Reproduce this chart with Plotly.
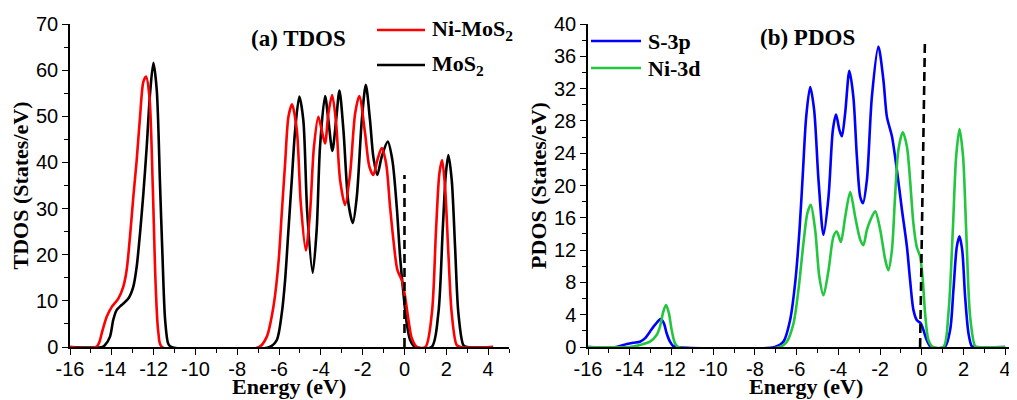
import plotly.graph_objects as go

# ---------------- data ----------------
# (a) TDOS, pristine MoS2
tdos_mos2_x = [-16, -14.45, -14.33, -14.09, -13.93, -13.77, -13.53, -13.21, -12.97, -12.81, -12.65,
               -12.49, -12.33, -12.17, -12.01, -11.85, -11.69, -11.58, -11.45, -11.3, -11.15,
               -6.45, -6.11, -5.87, -5.71, -5.55, -5.39, -5.23, -5.03, -4.84, -4.65, -4.39, -4.2,
               -4.04, -3.8, -3.64, -3.45, -3.27, -3.11, -2.92, -2.68, -2.47, -2.28, -2.04, -1.85,
               -1.65, -1.49, -1.3, -1.09, -0.8, -0.58, -0.37, -0.21, -0.05, 0.11, 0.27, 0.5,
               1.3, 1.62, 1.83, 1.98, 2.1, 2.26, 2.42, 2.58, 2.82, 3.0, 4.24]
tdos_mos2_y = [0, 0, 0.4, 2.2, 5.9, 8.0, 9.1, 10.5, 13.1, 17.4, 24.7,
               33.3, 43.4, 55.0, 61.6, 55.7, 34.7, 20.3, 5.9, 0.7, 0,
               0, 1.5, 7.3, 14.5, 25.4, 36.2, 47.0, 54.3, 49.2, 29.0, 16.1, 25.4,
               43.4, 54.4, 49.2, 42.5, 49.2, 55.6, 47.0, 31.1, 26.9, 32.6, 49.2, 56.8,
               49.2, 41.2, 37.3, 41.2, 44.5, 40.5, 30.4, 19.6, 11.6, 5.1, 1.5, 0,
               0, 7.3, 25.4, 37.6, 41.6, 36.2, 21.7, 7.3, 0.4, 0, 0]

# (a) TDOS, Ni-doped MoS2
tdos_ni_x = [-16, -14.75, -14.6, -14.48, -14.24, -14.0, -13.69, -13.45, -13.29, -13.13, -12.97,
             -12.81, -12.65, -12.49, -12.36, -12.2, -12.04, -11.9, -11.77, -11.6,
             -6.95, -6.59, -6.27, -6.03, -5.87, -5.71, -5.55, -5.38, -5.15, -4.96, -4.72, -4.52,
             -4.33, -4.12, -3.96, -3.8, -3.64, -3.46, -3.27, -3.08, -2.84, -2.6, -2.36, -2.16,
             -1.89, -1.68, -1.49, -1.3, -1.09, -0.88, -0.69, -0.53, -0.34, -0.13, 0.03, 0.19,
             0.35, 0.6, 1.0, 1.31, 1.51, 1.67, 1.8, 1.94, 2.1, 2.26, 2.5, 2.7, 4.24]
tdos_ni_y = [0, 0, 1.0, 3.0, 6.6, 8.7, 10.5, 13.1, 16.7, 23.9, 32.6,
             40.5, 49.9, 57.5, 58.6, 54.2, 34.7, 13.1, 3.0, 0,
             0, 2.2, 8.7, 18.1, 29.0, 39.8, 49.9, 52.6, 47.0, 31.1, 20.9, 29.0,
             43.4, 49.9, 47.0, 44.1, 50.6, 54.6, 48.5, 36.2, 30.8, 37.6, 50.6, 54.4,
             46.5, 39.1, 37.3, 40.5, 43.1, 39.8, 30.4, 23.2, 16.7, 14.5, 10.9, 5.9,
             1.9, 0, 0, 7.3, 25.4, 37.6, 40.5, 34.7, 20.3, 7.3, 0.4, 0, 0]

# (b) PDOS, S-3p
s3p_x = [-16, -14.65, -14.14, -13.83, -13.51, -13.27, -13.03, -12.79, -12.52, -12.36, -12.23,
         -12.07, -11.91, -11.75,
         -7.05, -6.63, -6.31, -6.07, -5.86, -5.7, -5.54, -5.35, -5.16, -4.95, -4.71, -4.47,
         -4.26, -4.11, -3.95, -3.83, -3.67, -3.47, -3.28, -3.11, -2.95, -2.82, -2.63, -2.39,
         -2.08, -1.84, -1.67, -1.43, -1.19, -0.95, -0.71, -0.56, -0.4, -0.24, -0.04, 0.08,
         0.24, 0.44, 1.1, 1.36, 1.52, 1.68, 1.81, 1.94, 2.08, 2.24, 2.4, 2.55, 4.0]
s3p_y = [0, 0, 0.37, 0.53, 0.66, 1.07, 1.9, 2.73, 3.45, 2.93, 1.7,
         0.66, 0.1, 0,
         0, 0.66, 3.35, 7.9, 14.5, 21.5, 28.5, 32.2, 29.4, 20.7, 13.9, 18.6,
         26.9, 28.8, 26.9, 26.1, 29.0, 34.2, 31.0, 23.6, 18.6, 17.8, 20.7, 31.0,
         37.2, 33.1, 28.5, 26.1, 21.9, 17.0, 12.4, 8.3, 4.6, 3.35, 2.9, 2.1,
         0.87, 0, 0, 2.1, 7.1, 12.4, 13.7, 12.0, 6.2, 1.7, 0.1, 0, 0]

# (b) PDOS, Ni-3d
ni3d_x = [-16, -14.0, -13.51, -13.03, -12.71, -12.55, -12.39, -12.26, -12.12, -11.99, -11.83, -11.67,
          -6.8, -6.47, -6.15, -5.91, -5.67, -5.48, -5.32, -5.11, -4.91, -4.71, -4.47, -4.23,
          -4.07, -3.88, -3.67, -3.43, -3.19, -2.95, -2.8, -2.63, -2.45, -2.23, -1.99, -1.75,
          -1.6, -1.43, -1.28, -1.12, -0.91, -0.71, -0.56, -0.4, -0.24, -0.08, 0.05, 0.16,
          0.32, 0.53, 1.04, 1.28, 1.49, 1.65, 1.81, 1.98, 2.13, 2.32, 2.56, 2.7, 4.0]
ni3d_y = [0, 0, 0.25, 0.66, 1.49, 2.5, 4.37, 5.2, 4.17, 2.1, 0.45, 0,
          0, 0.66, 2.9, 7.1, 12.9, 16.6, 17.6, 14.5, 8.7, 6.4, 9.5, 13.7,
          14.3, 13.0, 16.1, 19.2, 16.1, 13.3, 12.6, 14.5, 15.8, 16.8, 14.5, 10.8,
          9.5, 12.0, 18.6, 24.4, 26.6, 24.8, 20.7, 15.3, 12.4, 11.2, 8.3, 4.2,
          0.87, 0, 0, 4.2, 14.5, 23.6, 27.0, 23.6, 14.5, 3.75, 0.1, 0, 0]

# Fermi-level marker lines (dashed)
fermi_a_x = [0.0, 0.0]
fermi_a_y = [0.0, 37.3]
fermi_b_x = [-0.08, 0.15]
fermi_b_y = [0.0, 37.7]

# axis ticks
x_ticks = list(range(-16, 5, 2))
x_tick_labels = [str(v) for v in x_ticks]          # plain hyphen-minus like the original
ya_ticks = list(range(0, 71, 10))
ya_tick_labels = [str(v) for v in ya_ticks]
yb_ticks = list(range(0, 41, 4))
yb_tick_labels = [str(v) for v in yb_ticks]

# ---------------- figure ----------------
W, H = 1017, 400
OFF = 8                      # page body margin that shifts the figure on screen
TOP_S, BOT_S = 24, 347       # plot area top/bottom in screen pixels
MT = TOP_S - OFF
MB = H - (BOT_S - OFF)
plot_h = H - MT - MB


def px_x(p):
    """screen x pixel -> paper fraction"""
    return (p - OFF) / W


def px_y(p):
    """screen y pixel -> paper fraction"""
    return (BOT_S - p) / plot_h


LW = 2.6
SPL = dict(shape="spline", smoothing=0.8)
fig = go.Figure()
fig.add_trace(go.Scatter(x=tdos_mos2_x, y=tdos_mos2_y, mode="lines", name="MoS2",
                         line=dict(color="#000000", width=LW, **SPL),
                         xaxis="x", yaxis="y", showlegend=False))
fig.add_trace(go.Scatter(x=tdos_ni_x, y=tdos_ni_y, mode="lines", name="Ni-MoS2",
                         line=dict(color="#FF0000", width=LW, **SPL),
                         xaxis="x", yaxis="y", showlegend=False))
fig.add_trace(go.Scatter(x=fermi_a_x, y=fermi_a_y, mode="lines", name="EF",
                         line=dict(color="#000000", width=2.6, dash="9px,5px"),
                         xaxis="x", yaxis="y", showlegend=False))
fig.add_trace(go.Scatter(x=s3p_x, y=s3p_y, mode="lines", name="S-3p",
                         line=dict(color="#0000FF", width=LW, **SPL),
                         xaxis="x2", yaxis="y2", showlegend=False))
fig.add_trace(go.Scatter(x=ni3d_x, y=ni3d_y, mode="lines", name="Ni-3d",
                         line=dict(color="#22C63F", width=LW, **SPL),
                         xaxis="x2", yaxis="y2", showlegend=False))
fig.add_trace(go.Scatter(x=fermi_b_x, y=fermi_b_y, mode="lines", name="EF",
                         line=dict(color="#000000", width=2.6, dash="9px,5px"),
                         xaxis="x2", yaxis="y2", showlegend=False))

tick_font = dict(family="Liberation Sans, Arial, sans-serif", size=20, color="black")
title_font = dict(family="Liberation Serif, Times New Roman, serif", size=22, color="black", weight="bold")

common_x = dict(showline=True, linecolor="black", linewidth=1.5, ticks="outside", ticklen=6,
                tickwidth=1.4, tickcolor="black", tickvals=x_ticks, ticktext=x_tick_labels,
                showgrid=False, zeroline=False, tickfont=tick_font, automargin=False,
                ticklabelstandoff=-3,
                minor=dict(dtick=1, ticks="outside", ticklen=4, tickwidth=1.2, tickcolor="black", showgrid=False))
common_y = dict(showline=True, linecolor="black", linewidth=1.5, ticks="outside", ticklen=6,
                tickwidth=1.4, tickcolor="black", showgrid=False, zeroline=False,
                tickfont=tick_font, automargin=False)

fig.update_layout(
    width=W, height=H, template="none",
    margin=dict(l=0, r=0, t=MT, b=MB, pad=0),
    paper_bgcolor="white", plot_bgcolor="white",
    showlegend=False,
    xaxis=dict(domain=[px_x(70), px_x(509)], range=[-16, 5], anchor="y", **common_x),
    xaxis2=dict(domain=[px_x(588), 1.0], range=[-16, 4.95], anchor="y2", **common_x),
    yaxis=dict(domain=[0, 1], range=[0, 70], tickvals=ya_ticks, ticktext=ya_tick_labels, anchor="x",
               minor=dict(dtick=5, ticks="outside", ticklen=4, tickwidth=1.2, tickcolor="black", showgrid=False),
               title=dict(text="TDOS (States/eV)", font=title_font, standoff=2), **common_y),
    yaxis2=dict(domain=[0, 1], range=[0, 40], tickvals=yb_ticks, ticktext=yb_tick_labels, anchor="x2",
                minor=dict(dtick=2, ticks="outside", ticklen=4, tickwidth=1.2, tickcolor="black", showgrid=False),
                title=dict(text="PDOS (States/eV)", font=title_font, standoff=1), **common_y),
)

# x-axis titles placed as annotations under each panel
for xc in (289, 806):
    fig.add_annotation(text="Energy (eV)", x=px_x(xc), y=px_y(386), xref="paper", yref="paper",
                       xanchor="center", yanchor="middle", showarrow=False, font=title_font)

label_font = dict(family="Liberation Serif, Times New Roman, serif", size=23, color="black", weight="bold")
legend_font = dict(family="Liberation Serif, Times New Roman, serif", size=22, color="black", weight="bold")

# panel titles
fig.add_annotation(text="(a) TDOS", x=px_x(298), y=px_y(39), xref="paper", yref="paper",
                   xanchor="center", yanchor="middle", showarrow=False, font=label_font)
fig.add_annotation(text="(b) PDOS", x=px_x(807), y=px_y(37), xref="paper", yref="paper",
                   xanchor="center", yanchor="middle", showarrow=False, font=label_font)

# hand-placed legends
legend_items = [
    ("Ni-MoS<sub>2</sub>", "#FF0000", 377, 425, 30, 430),
    ("MoS<sub>2</sub>", "#000000", 377, 425, 65, 430),
    ("S-3p", "#0000FF", 591, 641, 41, 646),
    ("Ni-3d", "#22C63F", 591, 641, 68, 646),
]
for text, color, x0, x1, yy, xt in legend_items:
    fig.add_shape(type="line", xref="paper", yref="paper", x0=px_x(x0), x1=px_x(x1),
                  y0=px_y(yy), y1=px_y(yy), line=dict(color=color, width=2.6))
    fig.add_annotation(text=text, x=px_x(xt), y=px_y(yy), xref="paper", yref="paper",
                       xanchor="left", yanchor="middle", showarrow=False, font=legend_font)

fig.write_html("out.html")
